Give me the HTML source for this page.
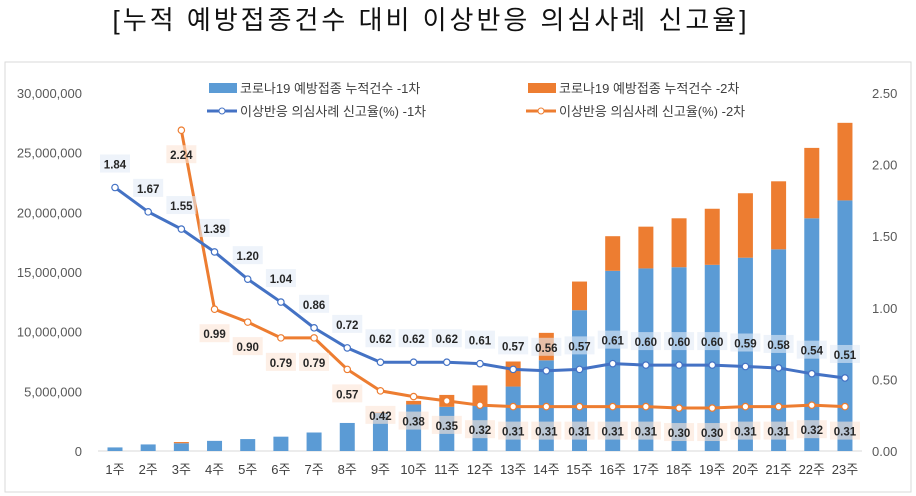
<!DOCTYPE html>
<html><head><meta charset="utf-8"><style>
body{margin:0;background:#fff;width:916px;height:496px;overflow:hidden;font-family:"Liberation Sans","Noto Sans CJK KR",sans-serif}
#title{position:absolute;left:0;width:862px;top:0px;text-align:center;font-size:26px;letter-spacing:3px;color:#111}
svg{position:absolute;left:0;top:0}
</style></head><body>
<div id="title">[누적 예방접종건수 대비 이상반응 의심사례 신고율]</div>
<svg id="c" width="916" height="496"></svg>
<script>
const weeks=["1주","2주","3주","4주","5주","6주","7주","8주","9주","10주","11주","12주","13주","14주","15주","16주","17주","18주","19주","20주","21주","22주","23주"];
const dose1=[0.3,0.55,0.65,0.85,1.0,1.2,1.55,2.35,3.2,3.9,3.7,3.9,5.4,7.6,11.8,15.1,15.3,15.4,15.6,16.2,16.9,19.5,21.0];
const dose2=[0,0,0.1,0,0,0,0,0,0.05,0.3,1.0,1.6,2.1,2.3,2.4,2.9,3.5,4.1,4.7,5.4,5.7,5.9,6.5];
const rate1=[1.84,1.67,1.55,1.39,1.20,1.04,0.86,0.72,0.62,0.62,0.62,0.61,0.57,0.56,0.57,0.61,0.60,0.60,0.60,0.59,0.58,0.54,0.51];
const rate2=[null,null,2.24,0.99,0.90,0.79,0.79,0.57,0.42,0.38,0.35,0.32,0.31,0.31,0.31,0.31,0.31,0.30,0.30,0.31,0.31,0.32,0.31];
const leftTicks=[0,5,10,15,20,25,30];
const rightTicks=[0,0.5,1,1.5,2,2.5];
const NS="http://www.w3.org/2000/svg",svg=document.getElementById('c');
function el(t,a,p){const e=document.createElementNS(NS,t);for(const k in a)e.setAttribute(k,a[k]);(p||svg).appendChild(e);return e;}
const Y0=451,Y1=93;
const yL=v=>Y0-(v/30)*(Y0-Y1);
const yR=v=>Y0-(v/2.5)*(Y0-Y1);
const xC=i=>115+i*33.18;
const box=el('rect',{x:5,y:62,width:906,height:430,fill:'none',stroke:'#d9d9d9'});


el('line',{x1:98,x2:862,y1:Y0,y2:Y0,stroke:'#d9d9d9'});
leftTicks.forEach(v=>{const t=el('text',{x:82,y:yL(v)+5,'text-anchor':'end','font-size':13,fill:'#595959'});t.textContent=(v*1e6).toLocaleString('en-US');
});
rightTicks.forEach(v=>{const t=el('text',{x:872,y:yR(v)+5,'font-size':13,fill:'#595959'});t.textContent=v.toFixed(2);
});
weeks.forEach((w,i)=>{const t=el('text',{x:xC(i),y:474,'text-anchor':'middle','font-size':13,fill:'#404040'});t.textContent=w;
});
weeks.forEach((w,i)=>{
 const b=el('rect',{x:xC(i)-7.5,y:yL(dose1[i]),width:15,height:Y0-yL(dose1[i]),fill:'#5b9bd5'});
 
 if(dose2[i]>0){const o=el('rect',{x:xC(i)-7.5,y:yL(dose1[i]+dose2[i]),width:15,height:yL(dose1[i])-yL(dose1[i]+dose2[i]),fill:'#ed7d31'});
 }
});
function line(data,color,name){
 let d='';data.forEach((v,i)=>{if(v==null)return;d+=(d?'L':'M')+xC(i)+','+yR(v);});
 const p=el('path',{d:d,fill:'none',stroke:color,'stroke-width':3});
 
 data.forEach((v,i)=>{if(v==null)return;const c=el('circle',{cx:xC(i),cy:yR(v),r:3.2,fill:'#fff',stroke:color,'stroke-width':1.2});
 });
}
line(rate2,'#ed7d31','rate-dose2-line');
line(rate1,'#4472c4','rate-dose1-line');
function labels(data,bg,dy,name){
 data.forEach((v,i)=>{if(v==null)return;const cx=xC(i),cy=yR(v)+dy;
 const r=el('rect',{x:cx-15,y:cy-10,width:30,height:18,fill:bg,opacity:0.6});
 
 const t=el('text',{x:cx,y:cy+4,'text-anchor':'middle','font-size':11.5,'font-weight':'bold',fill:'#262626'});t.textContent=v.toFixed(2);
 });
}
labels(rate1,'#e3ebf7',-23,'rate-dose1-label');
labels(rate2,'#fbe5d6',25,'rate-dose2-label');
function legText(x,y,s){const t=el('text',{x:x,y:y,'font-size':13,fill:'#404040'});t.textContent=s;}
let r=el('rect',{x:209,y:83,width:28,height:10,fill:'#5b9bd5'});
legText(240,93,'코로나19 예방접종 누적건수 -1차');
r=el('rect',{x:528,y:83,width:28,height:10,fill:'#ed7d31'});
legText(559,93,'코로나19 예방접종 누적건수 -2차');
el('line',{x1:207,x2:237,y1:111,y2:111,stroke:'#4472c4','stroke-width':3});
el('circle',{cx:222,cy:111,r:3,fill:'#fff',stroke:'#4472c4'});
legText(240,116,'이상반응 의심사례 신고율(%) -1차');
el('line',{x1:526,x2:556,y1:111,y2:111,stroke:'#ed7d31','stroke-width':3});
el('circle',{cx:541,cy:111,r:3,fill:'#fff',stroke:'#ed7d31'});
legText(559,116,'이상반응 의심사례 신고율(%) -2차');
</script>
</body></html>
